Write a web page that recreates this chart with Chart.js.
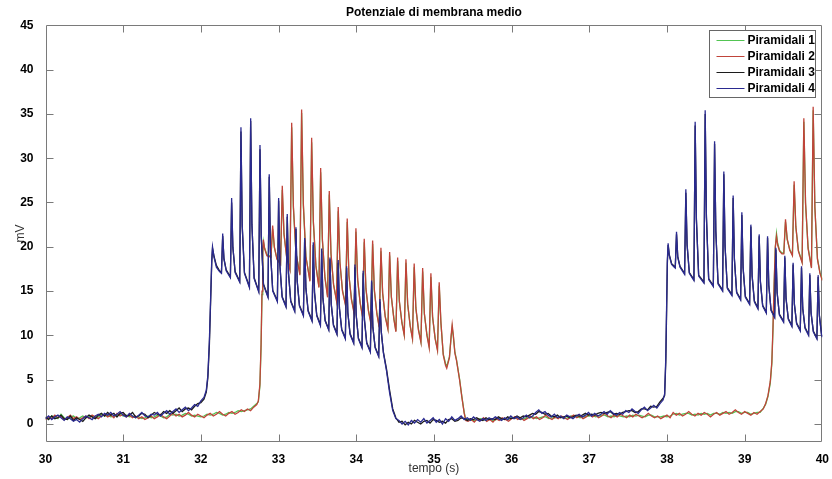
<!DOCTYPE html>
<html>
<head>
<meta charset="utf-8">
<script src="https://cdn.jsdelivr.net/npm/chart.js@4/dist/chart.umd.min.js"></script>
<style>
  html, body { margin: 0; padding: 0; background: #ffffff; }
  canvas { display: block; }
</style>
</head>
<body>
<canvas id="chart" width="832" height="479" style="width:832px;height:479px"></canvas>
<script>
// ---- recorded traces (mV) ----
// Quiet stretches are sampled on a regular grid (start, step in s);
// burst stretches carry their own sample times.

// Populations 3 and 4 (first to fire)
const restA1Start = 30.00, restA2Start = 34.55, restStep = 0.04;

const p4_rest1 = [0.6,0.9,0.5,0.8,1.0,0.7,0.4,0.8,0.6,0.3,
  0.5,0.2,0.6,0.9,0.7,0.5,0.9,1.1,0.8,1.2,
  1.0,1.3,0.9,1.1,1.4,1.0,0.8,1.2,0.9,0.7,
  1.0,1.3,0.9,0.8,1.1,1.0,1.3,0.9,1.2,1.5,
  1.1,1.4,1.7,1.3,1.6,1.9,1.5,1.8,2.2,2.0,2.6];
const p3_rest1 = [0.8,0.5,0.9,0.6,0.7,1.0,0.6,0.5,0.9,0.4,
  0.7,0.5,0.3,0.7,1.0,0.8,0.6,1.0,1.2,0.9,
  1.3,1.0,1.2,0.8,1.2,1.3,0.9,1.0,1.3,0.8,
  0.9,1.2,1.1,0.7,1.0,1.3,1.1,1.0,1.4,1.2,
  1.5,1.2,1.5,1.8,1.4,1.7,1.8,1.6,2.0,2.3,2.4];

const tA_burst1 = [32.04,32.07,32.09,32.11,32.125,32.14,32.15,32.17,32.20,32.24,
  32.265,32.281,32.297,32.326,
  32.380,32.396,32.412,32.441,
  32.500,32.516,32.532,32.561,
  32.625,32.641,32.657,32.686,
  32.745,32.761,32.777,32.806,
  32.864,32.880,32.896,32.925,
  32.985,33.001,33.017,33.046,
  33.096,33.112,33.128,33.157,
  33.208,33.224,33.240,33.269,
  33.320,33.336,33.352,33.381,
  33.431,33.447,33.463,33.492,
  33.539,33.555,33.571,33.600,
  33.646,33.662,33.678,33.707,
  33.752,33.768,33.784,33.813,
  33.860,33.876,33.892,33.921,
  33.967,33.983,33.999,34.028,
  34.074,34.090,34.106,34.135,
  34.182,34.198,34.214,34.243,
  34.289,34.305,34.322,34.350,34.390,34.430,34.470,34.510];
const p4_burst1 = [3.0,3.8,5.5,9.5,14.0,18.5,20.0,18.8,17.7,17.2,
  17.0,21.5,18.6,17.3,
  16.5,25.5,20.0,17.1,
  16.0,33.5,22.5,17.0,
  15.4,34.5,22.6,16.4,
  14.9,31.5,21.3,15.7,
  14.3,28.2,19.5,15.0,
  13.8,25.5,18.0,14.3,
  13.2,23.7,17.1,13.8,
  12.7,22.2,16.2,13.3,
  12.2,21.0,15.4,12.7,
  11.6,20.5,14.9,12.2,
  11.1,19.8,14.3,11.6,
  10.6,18.8,13.6,11.1,
  10.1,18.5,13.1,10.6,
  9.6,17.8,12.6,10.1,
  9.1,18.0,12.4,9.6,
  8.6,17.3,11.8,9.1,
  8.1,16.2,11.0,8.6,
  7.6,14.1,10.5,8.0,6.0,3.5,1.5,0.6];
const p3_burst1 = [2.8,3.6,5.2,9.0,13.6,18.2,19.8,18.9,17.9,17.3,
  17.1,21.2,18.7,17.4,
  16.6,25.0,19.9,17.2,
  16.1,33.0,22.3,17.1,
  15.5,34.2,22.5,16.5,
  15.0,31.0,21.1,15.8,
  14.4,27.9,19.4,15.1,
  13.9,25.2,17.9,14.4,
  13.3,23.4,17.0,13.9,
  12.8,22.0,16.1,13.4,
  12.3,20.8,15.3,12.8,
  11.7,20.2,14.8,12.3,
  11.2,19.5,14.2,11.7,
  10.7,18.6,13.5,11.2,
  10.2,18.2,13.0,10.7,
  9.7,17.6,12.5,10.2,
  9.2,17.7,12.3,9.7,
  8.7,17.0,11.7,9.2,
  8.2,16.0,10.9,8.7,
  7.7,13.8,10.4,8.1,6.2,3.8,1.7,0.7];

const p4_rest2 = [0.4,0.0,0.3,-0.1,0.4,0.1,0.5,0.2,0.6,0.1,
  0.4,0.7,0.2,0.5,0.0,0.6,0.3,0.8,0.4,0.6,
  0.9,0.5,0.7,0.4,0.8,0.5,0.3,0.6,0.4,0.7,
  0.5,0.8,0.6,0.4,0.7,0.5,0.9,0.6,0.8,0.5,
  0.7,1.0,0.7,0.9,1.3,1.6,1.2,1.4,1.0,0.8,
  1.1,0.7,0.9,0.6,1.0,0.8,0.6,0.9,1.1,0.8,
  1.0,1.3,0.9,1.2,0.9,1.1,1.4,1.1,1.5,1.2,
  1.0,1.3,1.1,1.5,1.3,1.7,1.4,1.2,1.6,1.9,
  1.5,1.8,2.1,1.8,2.3,2.7];
const p3_rest2 = [0.2,0.3,-0.1,0.2,0.0,0.4,0.2,0.0,0.3,0.4,
  0.1,0.5,0.4,0.2,0.3,0.1,0.5,0.6,0.3,0.4,
  0.7,0.6,0.4,0.6,0.5,0.7,0.5,0.4,0.7,0.5,
  0.6,0.5,0.8,0.6,0.5,0.8,0.6,0.7,0.9,0.7,
  0.9,0.8,1.0,1.2,1.1,1.4,1.3,1.1,1.2,0.9,
  0.8,1.0,0.7,0.8,0.9,0.7,0.8,1.0,0.9,1.0,
  1.2,1.0,1.1,1.0,1.2,1.3,1.2,1.3,1.4,1.1,
  1.2,1.1,1.3,1.4,1.5,1.5,1.3,1.4,1.7,1.7,
  1.6,2.0,1.9,2.0,2.5,2.9];

const tA_burst2 = [37.97,37.985,37.995,38.005,38.015,38.03,38.06,38.095,
  38.107,38.123,38.139,38.168,
  38.227,38.243,38.259,38.288,
  38.347,38.363,38.379,38.408,
  38.476,38.492,38.508,38.537,
  38.597,38.613,38.629,38.658,
  38.716,38.732,38.748,38.777,
  38.836,38.852,38.868,38.897,
  38.948,38.964,38.980,39.009,
  39.064,39.080,39.096,39.125,
  39.171,39.187,39.203,39.232,
  39.279,39.295,39.311,39.340,
  39.386,39.402,39.418,39.447,
  39.501,39.517,39.533,39.562,
  39.608,39.624,39.640,39.669,
  39.716,39.732,39.748,39.777,
  39.823,39.839,39.855,39.884,
  39.930,39.946,39.962,39.990,40.0];
const p4_burst2 = [3.4,7.5,13.0,18.5,20.4,19.0,18.0,17.7,
  17.6,21.7,18.8,17.7,
  16.9,26.5,20.3,17.0,
  16.2,34.1,23.2,16.7,
  15.9,35.4,23.5,16.3,
  15.5,31.9,21.8,15.8,
  15.0,28.5,20.1,15.3,
  14.5,25.8,18.7,14.8,
  14.0,23.9,17.7,14.3,
  13.5,22.5,16.8,13.8,
  13.0,21.4,16.1,13.3,
  12.5,21.2,15.7,12.8,
  12.0,19.9,14.9,12.3,
  11.5,19.0,14.2,11.8,
  11.0,18.2,13.6,11.3,
  10.5,17.8,13.1,10.8,
  10.0,17.0,12.6,10.4,
  9.6,16.8,12.3,10.0,9.8];
const p3_burst2 = [3.2,7.0,12.4,18.1,20.2,19.1,18.1,17.8,
  17.7,21.4,18.9,17.8,
  17.0,26.1,20.2,17.1,
  16.3,33.7,23.0,16.8,
  16.0,35.0,23.3,16.4,
  15.6,31.6,21.7,15.9,
  15.1,28.2,20.0,15.4,
  14.6,25.5,18.6,14.9,
  14.1,23.6,17.6,14.4,
  13.6,22.3,16.7,13.9,
  13.1,21.2,16.0,13.4,
  12.6,21.0,15.6,12.9,
  12.1,19.7,14.8,12.4,
  11.6,18.8,14.1,11.9,
  11.1,18.0,13.5,11.4,
  10.6,17.6,13.0,10.9,
  10.1,16.8,12.5,10.5,
  9.7,16.6,12.2,10.1,9.9];

// Populations 1 and 2 (second to fire)
const restB1Start = 30.00, restB2Start = 35.44;

const p2_rest1 = [0.5,0.8,0.6,1.0,0.7,0.9,0.5,0.7,1.0,0.6,
  0.8,0.5,0.7,0.9,0.6,1.0,0.8,0.6,0.9,1.1,
  0.8,1.0,0.7,1.2,0.9,1.1,0.8,1.0,0.7,0.9,
  0.6,0.8,0.5,0.7,0.9,0.6,0.8,1.1,0.8,0.6,
  0.9,1.2,0.9,1.1,0.8,1.0,1.3,1.0,0.8,1.1,
  0.9,0.7,1.0,1.2,0.9,1.1,1.4,1.1,0.9,1.2,
  1.4,1.1,1.3,1.6,1.4,1.7,1.5,1.9,2.2];
const p1_rest1 = [0.7,0.6,0.9,0.8,0.6,1.1,0.7,0.5,0.8,0.9,
  0.6,0.7,0.9,0.7,0.8,0.9,0.6,0.8,1.1,0.9,
  1.0,0.8,0.9,1.0,1.1,0.9,1.0,0.8,0.9,0.7,
  0.8,0.6,0.7,0.9,0.7,0.8,1.0,0.9,0.7,0.8,
  1.1,1.0,1.1,0.9,1.0,1.2,1.1,0.9,1.0,0.9,
  0.8,0.9,1.1,1.0,1.1,1.3,1.2,1.0,1.1,1.3,
  1.2,1.3,1.5,1.4,1.5,1.6,1.7,2.0,2.3];

const tB_burst1 = [32.74,32.76,32.775,32.787,32.797,32.805,32.82,32.85,32.88,
  32.902,32.924,32.946,32.979,
  33.026,33.048,33.070,33.103,
  33.147,33.169,33.191,33.224,
  33.275,33.297,33.319,33.352,
  33.404,33.426,33.448,33.481,
  33.520,33.542,33.564,33.597,
  33.631,33.653,33.675,33.708,
  33.746,33.768,33.790,33.823,
  33.862,33.884,33.906,33.939,
  33.974,33.996,34.018,34.051,
  34.081,34.103,34.125,34.158,
  34.189,34.211,34.233,34.266,
  34.296,34.318,34.340,34.373,
  34.408,34.430,34.452,34.485,
  34.511,34.533,34.555,34.588,
  34.618,34.640,34.662,34.695,
  34.724,34.746,34.768,34.801,
  34.833,34.855,34.877,34.910,
  34.939,34.961,34.983,35.016,
  35.046,35.068,35.090,35.120,35.150,35.165,35.200,35.222,35.235,35.250,35.270,35.290,35.330,35.360,35.390,35.410];
const p2_burst1 = [2.6,4.5,9.0,15.0,19.5,20.8,19.8,19.0,18.9,
  18.8,22.4,20.0,18.6,
  18.0,26.9,21.5,18.9,
  17.4,34.0,24.6,19.3,
  16.8,35.5,24.9,18.9,
  16.1,32.3,22.9,17.8,
  15.4,28.9,20.9,16.5,
  14.3,26.3,19.3,15.7,
  13.9,24.5,18.3,15.0,
  13.4,23.2,16.8,14.0,
  12.4,22.1,16.4,13.6,
  12.1,20.9,15.3,12.7,
  11.3,20.7,15.2,12.4,
  10.9,19.9,14.8,12.1,
  10.7,19.4,14.4,11.8,
  10.4,18.8,13.9,11.4,
  10.0,18.6,13.6,11.0,
  9.6,18.1,13.1,10.6,
  9.2,17.6,12.5,10.0,
  8.6,17.0,12.1,9.6,
  8.3,16.0,11.5,7.8,6.6,6.3,7.5,10.0,11.2,10.0,8.0,7.2,5.0,3.0,1.2,0.4];
const p1_burst1 = [2.5,4.3,8.6,14.6,19.2,20.6,19.9,19.1,19.0,
  18.9,22.0,19.9,18.7,
  18.1,26.4,21.4,19.0,
  17.5,33.5,24.4,19.3,
  16.9,35.1,24.7,18.9,
  16.2,31.8,22.7,17.9,
  15.5,28.4,20.7,16.6,
  14.5,25.9,19.1,15.8,
  14.0,24.0,18.1,15.1,
  13.5,22.8,16.7,14.1,
  12.6,21.7,16.2,13.7,
  12.2,20.5,15.2,12.8,
  11.5,20.3,15.0,12.5,
  11.0,19.5,14.7,12.2,
  10.8,19.0,14.3,11.9,
  10.5,18.4,13.8,11.5,
  10.1,18.2,13.5,11.1,
  9.7,17.7,13.0,10.7,
  9.3,17.2,12.4,10.1,
  8.8,16.6,12.0,9.7,
  8.4,15.6,11.4,7.9,6.8,6.5,7.6,9.8,10.9,9.9,8.1,7.3,5.1,3.1,1.3,0.5];

const p2_rest2 = [0.3,0.5,0.2,0.6,0.4,0.7,0.3,0.5,0.2,0.6,
  0.4,0.7,0.5,0.3,0.6,0.8,0.5,0.7,0.4,0.6,
  0.9,0.6,0.8,0.5,0.7,1.0,0.7,0.5,0.8,0.6,
  0.9,0.7,0.5,0.8,1.0,0.7,0.9,0.6,0.8,1.1,
  0.8,1.0,0.7,0.9,1.2,0.9,0.7,1.0,0.8,1.1,
  0.9,0.7,1.0,0.8,1.1,0.9,0.7,0.9,1.2,0.9,
  0.7,0.9,0.6,0.8,1.0,0.7,1.3,1.0,1.2,0.9,
  1.1,1.4,1.1,0.9,1.2,1.0,1.3,1.1,0.8,1.1,
  1.3,1.0,1.2,1.4,1.1,1.3,1.6,1.3,1.1,1.4,
  1.2,1.0,1.3,1.1,1.4,1.7];
const p1_rest2 = [0.5,0.4,0.4,0.5,0.6,0.5,0.4,0.6,0.4,0.5,
  0.6,0.5,0.6,0.5,0.7,0.6,0.7,0.5,0.6,0.7,
  0.7,0.8,0.6,0.7,0.8,0.8,0.6,0.7,0.7,0.8,
  0.8,0.6,0.7,0.9,0.8,0.9,0.7,0.8,0.9,0.9,
  1.0,0.8,0.9,1.0,1.0,0.8,0.9,0.8,1.0,0.9,
  0.8,0.9,0.8,1.0,0.9,1.0,0.9,0.8,1.0,1.0,
  0.8,0.8,0.8,0.9,0.8,0.9,1.1,1.2,1.0,1.1,
  1.2,1.2,1.0,1.1,1.0,1.2,1.1,1.2,1.0,1.2,
  1.2,1.1,1.3,1.2,1.3,1.2,1.4,1.4,1.2,1.3,
  1.3,1.1,1.2,1.3,1.3,1.8];

const tB_burst2 = [39.27,39.30,39.33,39.35,39.365,39.38,39.395,39.41,39.425,39.45,39.48,
  39.504,39.526,39.548,39.581,
  39.615,39.637,39.659,39.692,
  39.740,39.762,39.784,39.817,
  39.860,39.882,39.904,39.937,39.970,40.0];
const p2_burst2 = [2.3,3.2,4.8,7.0,11.0,16.0,20.0,21.2,20.2,19.5,19.2,
  19.2,23.1,20.9,19.6,
  19.0,27.4,22.3,19.5,
  18.2,34.5,25.0,19.8,
  17.6,35.8,24.5,18.6,17.0,16.2];
const p1_burst2 = [2.2,3.1,4.6,6.8,10.6,15.7,19.9,21.5,20.4,19.6,19.3,
  19.3,22.8,20.8,19.7,
  19.1,27.0,22.2,19.6,
  18.3,34.1,24.8,19.9,
  17.7,35.4,24.4,18.7,17.1,16.3];

const seriesNames = ['Piramidali 1', 'Piramidali 2', 'Piramidali 3', 'Piramidali 4'];
const xTicks = [30, 31, 32, 33, 34, 35, 36, 37, 38, 39, 40];

// ---- assemble the traces ----
function sampleGrid(start, step, n) {
  return Array.from({ length: n }, (_, i) => Math.round((start + i * step) * 1000) / 1000);
}
function toPoints(times, values) {
  return times.map((t, i) => ({ x: t, y: values[i] }));
}
const tA = [...sampleGrid(restA1Start, restStep, p4_rest1.length), ...tA_burst1,
            ...sampleGrid(restA2Start, restStep, p4_rest2.length), ...tA_burst2];
const tB = [...sampleGrid(restB1Start, restStep, p2_rest1.length), ...tB_burst1,
            ...sampleGrid(restB2Start, restStep, p2_rest2.length), ...tB_burst2];

const p1 = [...p1_rest1, ...p1_burst1, ...p1_rest2, ...p1_burst2];
const p2 = [...p2_rest1, ...p2_burst1, ...p2_rest2, ...p2_burst2];
const p3 = [...p3_rest1, ...p3_burst1, ...p3_rest2, ...p3_burst2];
const p4 = [...p4_rest1, ...p4_burst1, ...p4_rest2, ...p4_burst2];

const FONT = '"Liberation Sans", Arial, Helvetica, sans-serif';
const colors = ['#52c452', '#c0443a', '#1c1c1c', '#2a2a90'];

// Axes box with inward tick marks on all four sides
const axesBox = {
  id: 'axesBox',
  beforeDatasetsDraw(chart) {
    const { ctx, chartArea: a, scales: { x, y } } = chart;
    const L = Math.round(a.left) + 0.5, R = Math.round(a.right) - 0.5;
    const T = Math.round(a.top) + 0.5, B = Math.round(a.bottom) - 0.5;
    const len = 7;
    ctx.save();
    ctx.strokeStyle = '#7a7a7a';
    ctx.lineWidth = 1;
    ctx.beginPath();
    ctx.rect(L, T, R - L, B - T);
    x.ticks.forEach(t => {
      const px = Math.round(x.getPixelForValue(t.value)) + 0.5;
      if (px <= L + 1 || px >= R - 1) return;
      ctx.moveTo(px, B); ctx.lineTo(px, B - len);
      ctx.moveTo(px, T); ctx.lineTo(px, T + len);
    });
    y.ticks.forEach(t => {
      const py = Math.round(y.getPixelForValue(t.value)) + 0.5;
      if (py <= T + 1 || py >= B - 1) return;
      ctx.moveTo(L, py); ctx.lineTo(L + len, py);
      ctx.moveTo(R, py); ctx.lineTo(R - len, py);
    });
    ctx.stroke();
    ctx.restore();
  }
};

// Legend box in the upper right corner of the axes
const boxLegend = {
  id: 'boxLegend',
  afterDraw(chart) {
    const { ctx } = chart;
    const left = 709.5, top = 30.5, w = 106, h = 67;
    ctx.save();
    ctx.fillStyle = '#ffffff';
    ctx.fillRect(left, top, w, h);
    ctx.strokeStyle = '#666666';
    ctx.lineWidth = 1;
    ctx.strokeRect(left, top, w, h);
    ctx.font = 'bold 12px ' + FONT;
    ctx.textBaseline = 'middle';
    ctx.textAlign = 'left';
    chart.data.datasets.forEach((ds, i) => {
      const cy = Math.round(top + 9.5 + i * 16) + 0.5;
      ctx.strokeStyle = ds.borderColor;
      ctx.beginPath();
      ctx.moveTo(left + 7, cy);
      ctx.lineTo(left + 35, cy);
      ctx.stroke();
      ctx.fillStyle = '#000000';
      ctx.fillText(ds.label, left + 38, cy);
    });
    ctx.restore();
  }
};

const datasets = [p1, p2, p3, p4].map((vals, i) => ({
  label: seriesNames[i],
  data: toPoints(i < 2 ? tB : tA, vals),
  borderColor: colors[i],
  backgroundColor: colors[i],
  borderWidth: 1.3,
  pointRadius: 0,
  tension: 0,
  fill: false,
  order: 4 - i
}));

new Chart(document.getElementById('chart'), {
  type: 'line',
  data: { datasets },
  options: {
    responsive: false,
    animation: false,
    events: [],
    layout: { padding: { left: 0, right: 9.5, top: 0, bottom: 0 } },
    plugins: {
      legend: { display: false },
      tooltip: { enabled: false },
      title: {
        display: true,
        text: 'Potenziale di membrana medio',
        fullSize: false,
        color: '#000000',
        font: { family: FONT, size: 12, weight: 'bold' },
        padding: { top: 5.5, bottom: 5.4 }
      }
    },
    scales: {
      x: {
        type: 'linear',
        min: 30,
        max: 40,
        afterBuildTicks: s => { s.ticks = xTicks.map(v => ({ value: v })); },
        ticks: { color: '#000000', font: { family: FONT, size: 12, weight: 'bold' }, padding: 3, maxRotation: 0 },
        grid: { display: false },
        border: { display: false },
        title: { display: true, text: 'tempo (s)', color: '#333333', font: { family: FONT, size: 12 }, padding: { top: 0, bottom: 3.5 } },
        afterFit: s => { s.height = 37.3; }
      },
      y: {
        type: 'linear',
        min: -2,
        max: 45,
        ticks: { stepSize: 5, includeBounds: false, color: '#000000', font: { family: FONT, size: 12, weight: 'bold' }, padding: 4 },
        grid: { display: false },
        border: { display: false },
        title: { display: true, text: 'mV', color: '#333333', font: { family: FONT, size: 12 }, padding: { top: 13.5, bottom: 0 } },
        afterFit: s => { s.width = 45.5; }
      }
    }
  },
  plugins: [axesBox, boxLegend]
});
</script>
</body>
</html>
